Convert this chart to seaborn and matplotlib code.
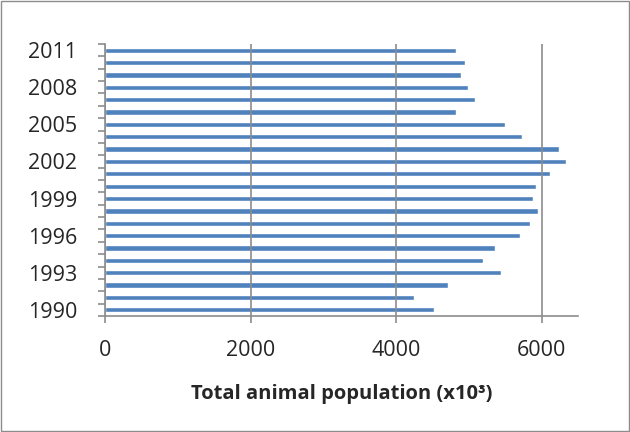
import numpy as np
import pandas as pd
import matplotlib.pyplot as plt
import seaborn as sns
from matplotlib.patches import Rectangle

# Werte (Tausend Tiere)
years = list(range(1990, 2012))
population = [4520, 4250, 4720, 5440, 5190, 5360, 5700, 5840, 5945, 5875,
              5920, 6110, 6340, 6235, 5735, 5500, 4830, 5080, 4990, 4890,
              4950, 4825]
label_years = [1990, 1993, 1996, 1999, 2002, 2005, 2008, 2011]
x_ticks = [0, 2000, 4000, 6000]

df = pd.DataFrame({"Year": [str(y) for y in years], "Population": population})
order = [str(y) for y in reversed(years)]

sns.set_style("white")
plt.rcParams["font.family"] = ["Open Sans", "DejaVu Sans"]

fig = plt.figure(figsize=(6.3, 4.32), dpi=100)
ax = fig.add_axes([105 / 630, 1 - 316 / 432, 473 / 630, 272 / 432])

sns.barplot(data=df, x="Population", y="Year", order=order, orient="h",
            color="#4F81BD", saturation=1, width=0.42, ax=ax, zorder=1)

# Gitter und Achsen im Excel-Stil
ax.set_xlim(0, 6500)
ax.set_xticks(x_ticks)
ax.set_xticklabels([str(t) for t in x_ticks], fontsize=15.5)
ax.xaxis.grid(True, color="#8c8c8c", linewidth=1.2, zorder=3)
ax.set_axisbelow(False)

pos = [order.index(str(y)) for y in label_years]
ax.set_yticks(pos)
ax.set_yticklabels([str(y) for y in label_years], fontsize=15.5)
ax.set_yticks(np.arange(-0.5, len(order)), minor=True)
ax.set_ylim(len(order) - 0.5, -0.5)
ax.tick_params(axis="y", which="major", left=False, length=0, pad=20)
ax.tick_params(axis="y", which="minor", left=True, length=5, width=1.2,
               color="#8c8c8c", direction="out")
ax.tick_params(axis="x", bottom=True, length=5, width=1.2, color="#8c8c8c",
               direction="out", pad=12)

for s in ["top", "right"]:
    ax.spines[s].set_visible(False)
for s in ["left", "bottom"]:
    ax.spines[s].set_color("#8c8c8c")
    ax.spines[s].set_linewidth(1.2)

ax.set_ylabel("")
ax.set_xlabel("Total animal population (x10³)", fontsize=14.5, fontweight="bold", labelpad=17)

fig.patches.append(Rectangle((0.002, 0.003), 0.996, 0.994, transform=fig.transFigure,
                             fill=False, edgecolor="#8c8c8c", linewidth=1))

plt.savefig("out.png", dpi=100)
